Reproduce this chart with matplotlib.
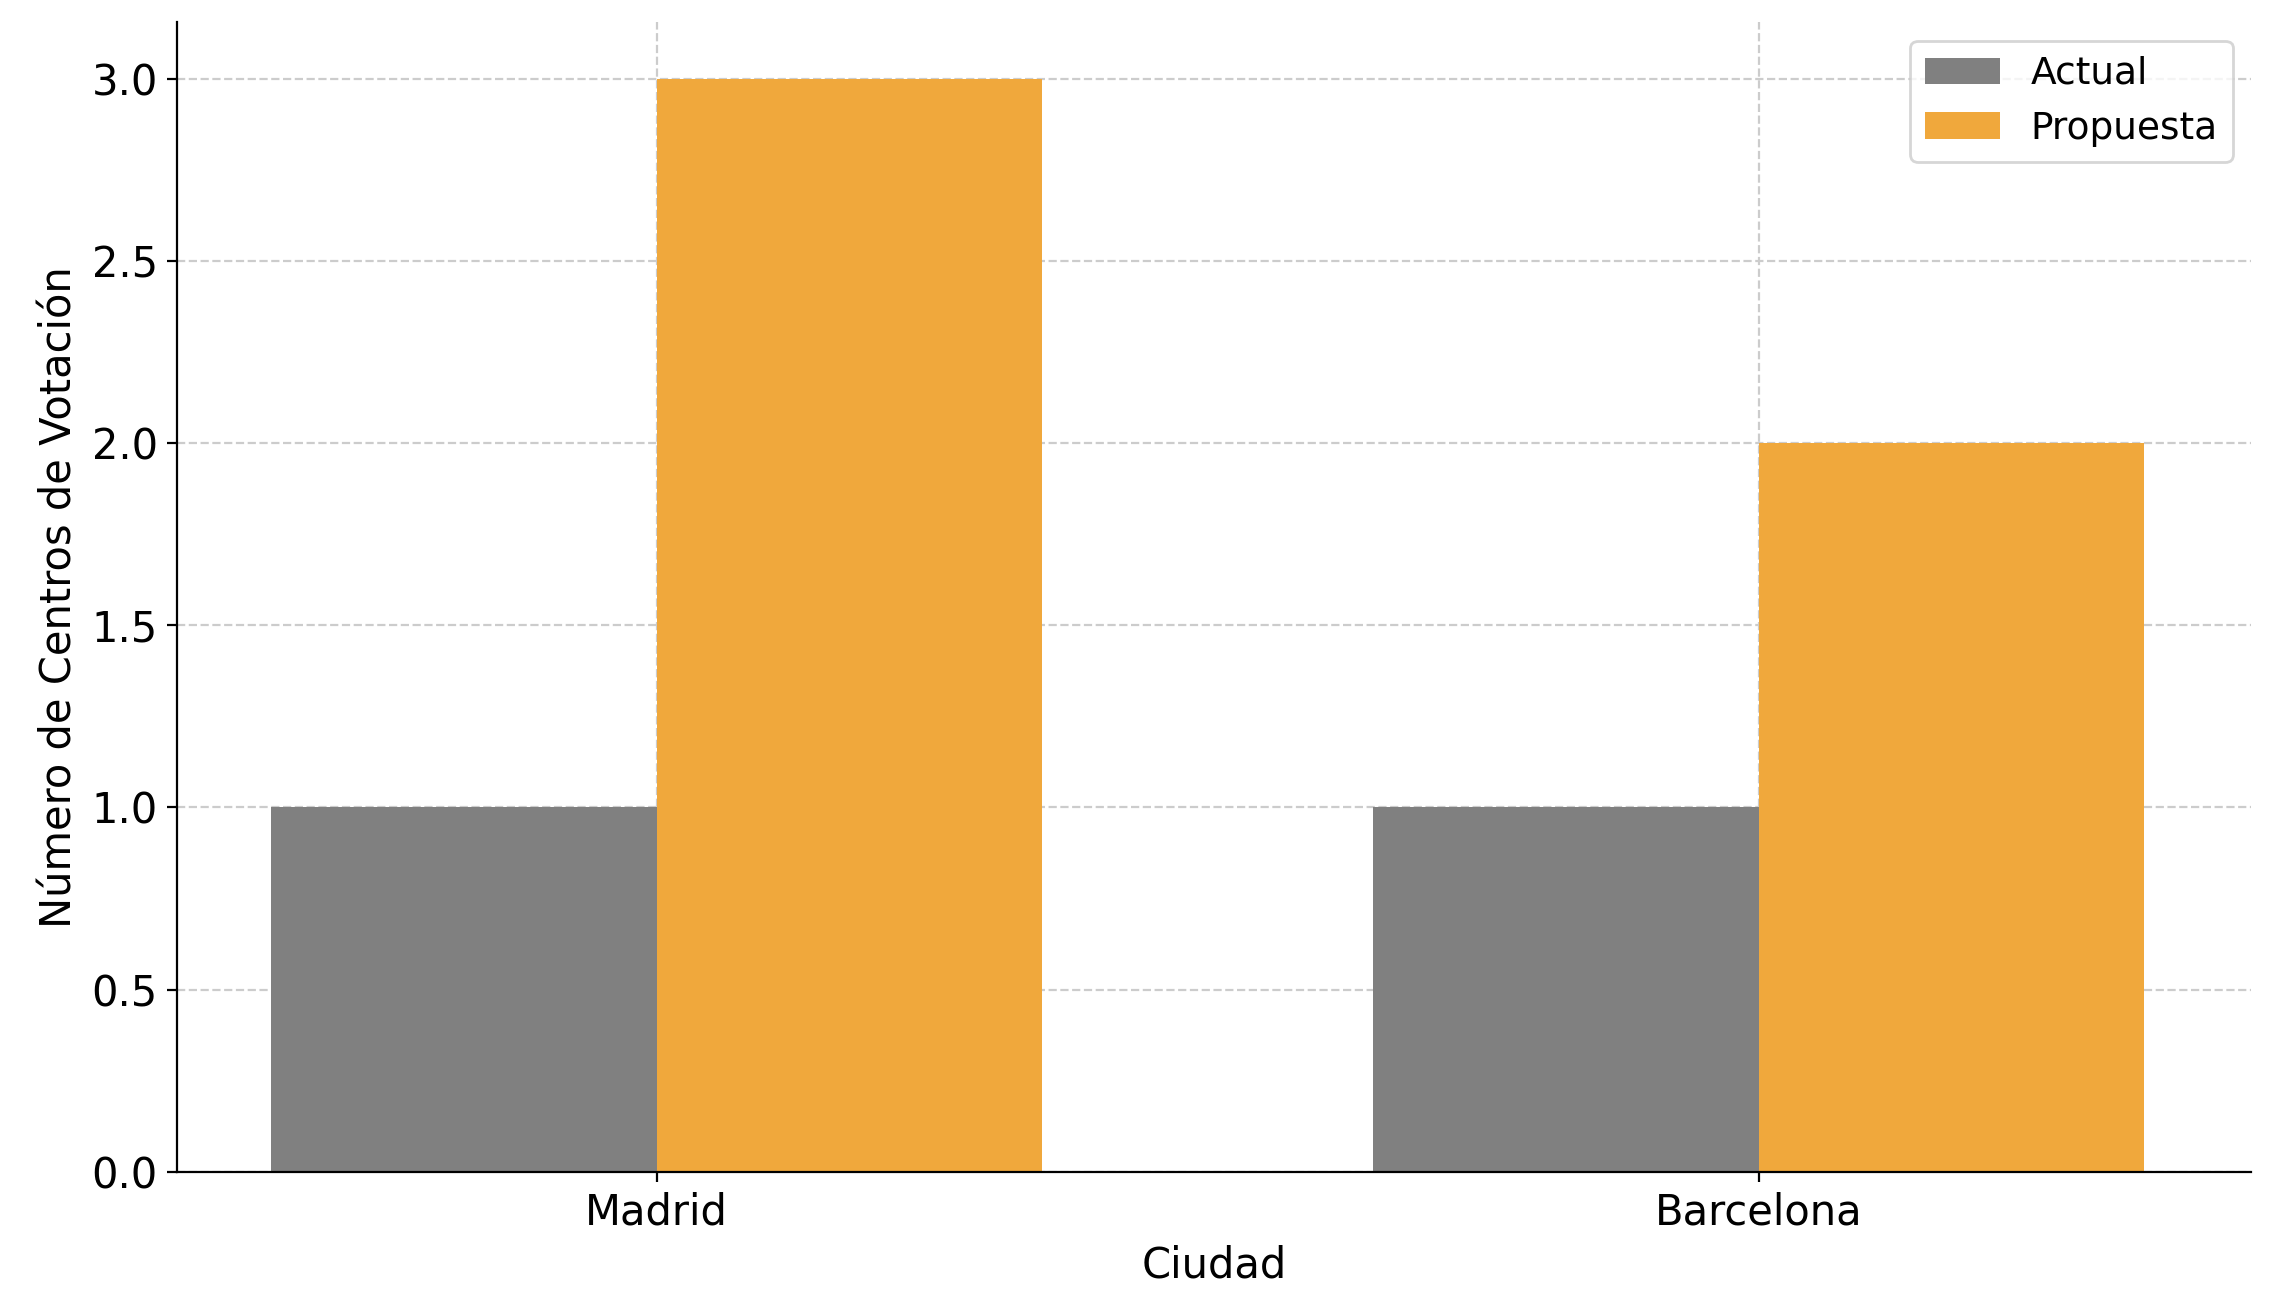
import matplotlib
matplotlib.use("Agg")
import matplotlib.pyplot as plt
import numpy as np

cities = ["Madrid", "Barcelona"]
actual = [1, 1]
propuesta = [3, 2]

fig = plt.figure(figsize=(11.37, 6.51), dpi=200)
ax = fig.add_axes([0.078, 0.1, 0.912, 0.883])
x = np.arange(len(cities))
w = 0.35
ax.bar(x - w/2, actual, w, color="#808080", label="Actual", zorder=2)
ax.bar(x + w/2, propuesta, w, color="#F0A83C", label="Propuesta", zorder=2)
ax.set_xticks(x)
ax.set_xticklabels(cities, fontsize=15)
ax.tick_params(axis="y", labelsize=15)
ax.set_xlabel("Ciudad", fontsize=15)
ax.set_ylabel("Número de Centros de Votación", fontsize=15)
ax.set_ylim(0, 3.155)
ax.set_xlim(-0.435, 1.447)
ax.grid(True, linestyle="--", color="#cccccc", linewidth=0.8, zorder=0)
for s in ["top", "right"]:
    ax.spines[s].set_visible(False)
ax.legend(fontsize=13.5, loc="upper right")
fig.savefig("out.png", dpi=200)
